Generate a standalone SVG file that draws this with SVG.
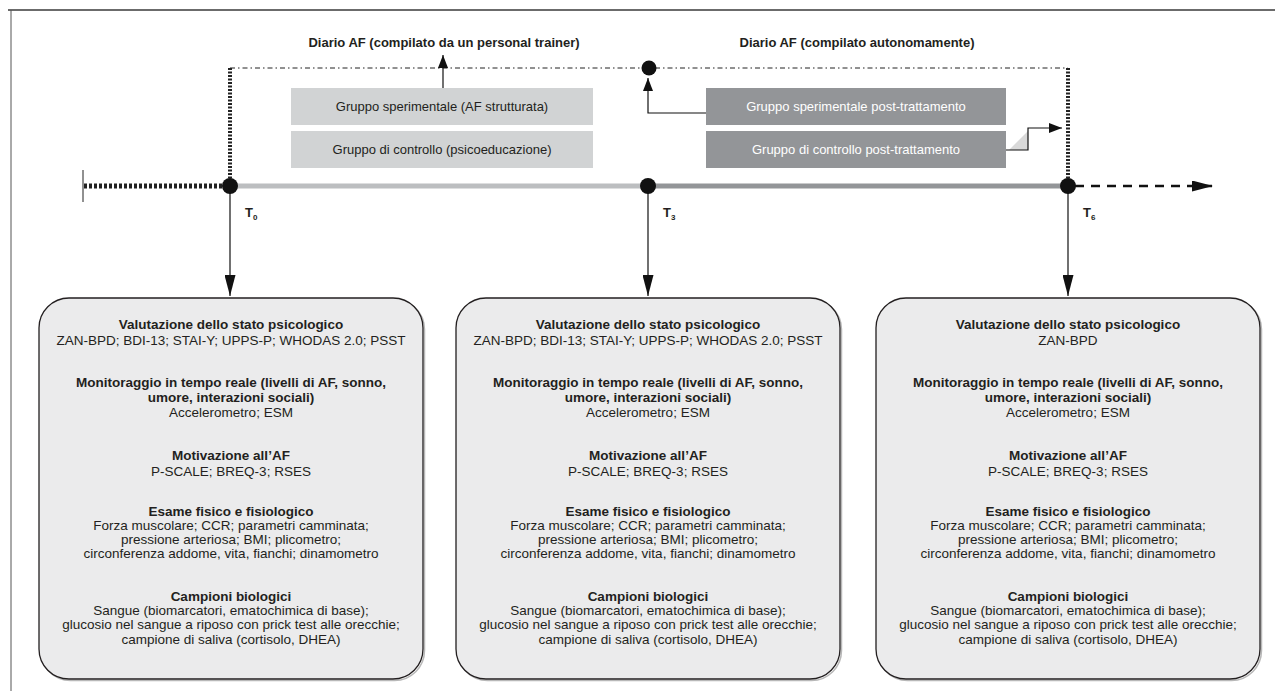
<svg xmlns="http://www.w3.org/2000/svg" width="1275" height="691" viewBox="0 0 1275 691">
<defs>
<marker id="big" markerUnits="userSpaceOnUse" viewBox="0 0 21 11" refX="21" refY="5.5" markerWidth="21" markerHeight="11" orient="auto"><path d="M0,0 L21,5.5 L0,11 z" fill="#111"/></marker>
<marker id="small" markerUnits="userSpaceOnUse" viewBox="0 0 13 10" refX="13" refY="5" markerWidth="13" markerHeight="10" orient="auto"><path d="M0,0 L13,5 L0,10 z" fill="#111"/></marker>
</defs>
<style>
text{font-family:"Liberation Sans",Arial,sans-serif;fill:#231f20;text-anchor:middle}
.h{font-weight:bold;font-size:13.5px}
.b{font-size:13.5px}
.t{font-weight:bold;font-size:13px}
.g{font-size:13px}
.w{fill:#fff}
.box{fill:#ebebec;stroke:#231f20;stroke-width:1.3}
.shadow{fill:none;stroke:#b8b8b8;stroke-width:1.5}
.ln{fill:none;stroke:#111;stroke-width:1.2}
.dot{fill:#111}
.lt{fill:#d1d3d4}
.dk{fill:#939598}
</style>
<rect width="1275" height="691" fill="#fff"/>
<g id="frame">
<path d="M8,10 H1275" stroke="#3a3a3a" stroke-width="1.6" fill="none"/>
<path d="M11,10 V691" stroke="#555" stroke-width="1" fill="none"/>
</g>

<g id="connectors">
<!-- dotted period frame -->
<path d="M230,68 H1068" stroke="#222" stroke-width="1" stroke-dasharray="5 3 1.5 3" fill="none"/>
<path d="M230,68 V180" stroke="#222" stroke-width="4" stroke-dasharray="2 1.5" fill="none"/>
<path d="M1068,68 V180" stroke="#222" stroke-width="4" stroke-dasharray="2 1.5" fill="none"/>
<!-- timeline -->
<path d="M83,170 V202" stroke="#222" stroke-width="1" fill="none"/>
<path d="M84,186 H224" stroke="#222" stroke-width="5" stroke-dasharray="3 2" fill="none"/>
<path d="M230,186 H648" stroke="#bcbec0" stroke-width="5" fill="none"/>
<path d="M648,186 H1068" stroke="#939598" stroke-width="5" fill="none"/>
<path d="M1075,186 H1213" stroke="#111" stroke-width="2.5" stroke-dasharray="9 7" fill="none" marker-end="url(#big)"/>
<!-- down arrows -->
<path d="M230,190 V296" class="ln" marker-end="url(#big)"/>
<path d="M648,190 V296" class="ln" marker-end="url(#big)"/>
<path d="M1068,190 V296" class="ln" marker-end="url(#big)"/>
<!-- diary arrows -->
<path d="M443,88 V55" class="ln" marker-end="url(#small)"/>
<path d="M706,113 H648 V78" class="ln" marker-end="url(#small)"/>
<polygon points="1009,150 1028,131 1028,150" fill="#d9d9d9"/>
<path d="M1006,150 H1028 V128 H1062" class="ln" marker-end="url(#small)"/>
<!-- dots -->
<circle cx="649" cy="68" r="7.5" class="dot"/>
<circle cx="230" cy="186" r="8" class="dot"/>
<circle cx="648" cy="186" r="8" class="dot"/>
<circle cx="1068" cy="186" r="8" class="dot"/>
</g>

<g id="titles">
<text class="t" x="444" y="47">Diario AF (compilato da un personal trainer)</text>
<text class="t" x="857" y="47">Diario AF (compilato autonomamente)</text>
</g>

<g id="tlabels">
<text class="t" x="245" y="217" style="text-anchor:start">T<tspan font-size="8" dy="3">0</tspan></text>
<text class="t" x="663" y="217" style="text-anchor:start">T<tspan font-size="8" dy="3">3</tspan></text>
<text class="t" x="1083" y="217" style="text-anchor:start">T<tspan font-size="8" dy="3">6</tspan></text>
</g>

<g id="grp-sper">
<rect x="291" y="88" width="302" height="37" class="lt"/>
<text class="g" x="442" y="111">Gruppo sperimentale (AF strutturata)</text>
</g>
<g id="grp-ctrl">
<rect x="291" y="131" width="302" height="37" class="lt"/>
<text class="g" x="442" y="154">Gruppo di controllo (psicoeducazione)</text>
</g>
<g id="grp-sper-post">
<rect x="706" y="88" width="300" height="37" class="dk"/>
<text class="g w" x="856" y="111">Gruppo sperimentale post-trattamento</text>
</g>
<g id="grp-ctrl-post">
<rect x="706" y="131" width="300" height="37" class="dk"/>
<text class="g w" x="856" y="154">Gruppo di controllo post-trattamento</text>
</g>

<g id="box-t0">
<rect x="40.5" y="299.5" width="384" height="381" rx="30" class="shadow"/>
<rect x="39" y="298" width="384" height="381" rx="30" class="box"/>
<text class="h" x="231" y="329">Valutazione dello stato psicologico</text>
<text class="b" x="231" y="345">ZAN-BPD; BDI-13; STAI-Y; UPPS-P; WHODAS 2.0; PSST</text>
<text class="h" x="231" y="387">Monitoraggio in tempo reale (livelli di AF, sonno,</text>
<text class="h" x="231" y="402">umore, interazioni sociali)</text>
<text class="b" x="231" y="417">Accelerometro; ESM</text>
<text class="h" x="231" y="460">Motivazione all’AF</text>
<text class="b" x="231" y="476">P-SCALE; BREQ-3; RSES</text>
<text class="h" x="231" y="516">Esame fisico e fisiologico</text>
<text class="b" x="231" y="530">Forza muscolare; CCR; parametri camminata;</text>
<text class="b" x="231" y="544">pressione arteriosa; BMI; plicometro;</text>
<text class="b" x="231" y="558">circonferenza addome, vita, fianchi; dinamometro</text>
<text class="h" x="231" y="601">Campioni biologici</text>
<text class="b" x="231" y="615">Sangue (biomarcatori, ematochimica di base);</text>
<text class="b" x="231" y="629">glucosio nel sangue a riposo con prick test alle orecchie;</text>
<text class="b" x="231" y="644">campione di saliva (cortisolo, DHEA)</text>
</g>

<g id="box-t3">
<rect x="457.5" y="299.5" width="384" height="381" rx="30" class="shadow"/>
<rect x="456" y="298" width="384" height="381" rx="30" class="box"/>
<text class="h" x="648" y="329">Valutazione dello stato psicologico</text>
<text class="b" x="648" y="345">ZAN-BPD; BDI-13; STAI-Y; UPPS-P; WHODAS 2.0; PSST</text>
<text class="h" x="648" y="387">Monitoraggio in tempo reale (livelli di AF, sonno,</text>
<text class="h" x="648" y="402">umore, interazioni sociali)</text>
<text class="b" x="648" y="417">Accelerometro; ESM</text>
<text class="h" x="648" y="460">Motivazione all’AF</text>
<text class="b" x="648" y="476">P-SCALE; BREQ-3; RSES</text>
<text class="h" x="648" y="516">Esame fisico e fisiologico</text>
<text class="b" x="648" y="530">Forza muscolare; CCR; parametri camminata;</text>
<text class="b" x="648" y="544">pressione arteriosa; BMI; plicometro;</text>
<text class="b" x="648" y="558">circonferenza addome, vita, fianchi; dinamometro</text>
<text class="h" x="648" y="601">Campioni biologici</text>
<text class="b" x="648" y="615">Sangue (biomarcatori, ematochimica di base);</text>
<text class="b" x="648" y="629">glucosio nel sangue a riposo con prick test alle orecchie;</text>
<text class="b" x="648" y="644">campione di saliva (cortisolo, DHEA)</text>
</g>

<g id="box-t6">
<rect x="877.5" y="299.5" width="384" height="381" rx="30" class="shadow"/>
<rect x="876" y="298" width="384" height="381" rx="30" class="box"/>
<text class="h" x="1068" y="329">Valutazione dello stato psicologico</text>
<text class="b" x="1068" y="345">ZAN-BPD</text>
<text class="h" x="1068" y="387">Monitoraggio in tempo reale (livelli di AF, sonno,</text>
<text class="h" x="1068" y="402">umore, interazioni sociali)</text>
<text class="b" x="1068" y="417">Accelerometro; ESM</text>
<text class="h" x="1068" y="460">Motivazione all’AF</text>
<text class="b" x="1068" y="476">P-SCALE; BREQ-3; RSES</text>
<text class="h" x="1068" y="516">Esame fisico e fisiologico</text>
<text class="b" x="1068" y="530">Forza muscolare; CCR; parametri camminata;</text>
<text class="b" x="1068" y="544">pressione arteriosa; BMI; plicometro;</text>
<text class="b" x="1068" y="558">circonferenza addome, vita, fianchi; dinamometro</text>
<text class="h" x="1068" y="601">Campioni biologici</text>
<text class="b" x="1068" y="615">Sangue (biomarcatori, ematochimica di base);</text>
<text class="b" x="1068" y="629">glucosio nel sangue a riposo con prick test alle orecchie;</text>
<text class="b" x="1068" y="644">campione di saliva (cortisolo, DHEA)</text>
</g>
</svg>
